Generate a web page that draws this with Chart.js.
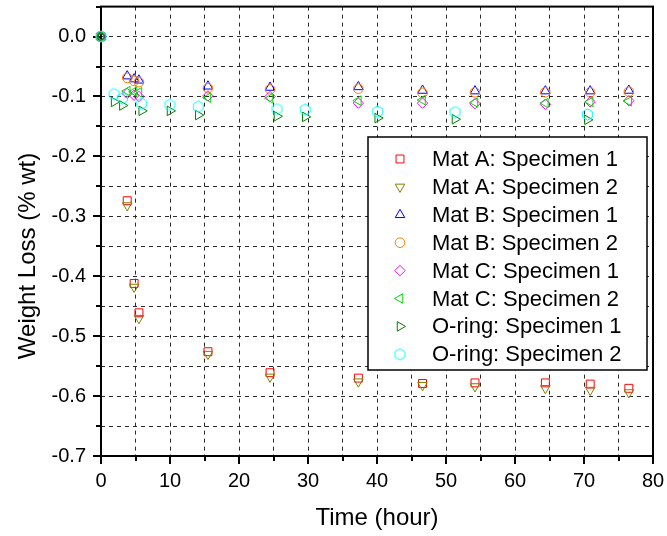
<!DOCTYPE html>
<html>
<head>
<meta charset="utf-8">
<title>Weight Loss vs Time</title>
<script src="https://cdn.jsdelivr.net/npm/chart.js@4.4.0/dist/chart.umd.min.js"></script>
<style>
  html, body { margin: 0; padding: 0; background: #fff; }
  #chart { display: block; }
</style>
</head>
<body>
<canvas id="chart" width="667" height="536"></canvas>
<script>
// Data
const seriesNames = [
    'Mat A: Specimen 1', 'Mat A: Specimen 2',
    'Mat B: Specimen 1', 'Mat B: Specimen 2',
    'Mat C: Specimen 1', 'Mat C: Specimen 2',
    'O-ring: Specimen 1', 'O-ring: Specimen 2'
];
const matTimes = [0, 3.8, 4.8, 5.5, 15.5, 24.5, 37.3, 46.6, 54.2, 64.4, 70.9, 76.5];
const matA1 = [0, -0.274, -0.412, -0.461, -0.526, -0.561, -0.570, -0.579, -0.578, -0.578, -0.580, -0.587];
const matA2 = [0, -0.282, -0.418, -0.470, -0.530, -0.568, -0.576, -0.582, -0.584, -0.587, -0.590, -0.594];
const matB1 = [0, -0.066, -0.071, -0.073, -0.083, -0.085, -0.084, -0.090, -0.091, -0.091, -0.091, -0.090];
const matB2 = [0, -0.069, -0.074, -0.076, -0.086, -0.088, -0.087, -0.094, -0.093, -0.093, -0.093, -0.092];
const matC1 = [0, -0.095, -0.098, -0.100, -0.099, -0.100, -0.111, -0.111, -0.112, -0.113, -0.109, -0.107];
const matC2 = [0, -0.091, -0.092, -0.093, -0.102, -0.103, -0.107, -0.106, -0.110, -0.111, -0.109, -0.108];
const oRingTimes = [0, 1.9, 3.1, 5.9, 10.0, 14.1, 25.5, 29.6, 40.1, 51.3, 70.5];
const oRing1 = [0, -0.109, -0.115, -0.124, -0.124, -0.131, -0.133, -0.134, -0.136, -0.138, -0.139];
const oRing2 = [0, -0.096, -0.103, -0.112, -0.114, -0.117, -0.121, -0.122, -0.125, -0.126, -0.130];

// Axis ranges / ticks
const xMin = 0, xMax = 80, xStep = 5, xLabelEvery = 10;
const yMin = -0.7, yMax = 0.05, yStep = 0.05;
const xTitle = 'Time (hour)';
const yTitle = 'Weight Loss (% wt)';

const FONT = '"Liberation Sans", Arial, sans-serif';

// Hexagon marker (Chart.js has no built-in hexagon)
function hexagonMarker(color) {
    const c = document.createElement('canvas');
    c.width = 13;
    c.height = 13;
    const g = c.getContext('2d');
    g.strokeStyle = color;
    g.lineWidth = 1;
    g.beginPath();
    for (let i = 0; i < 6; i++) {
        const a = -Math.PI / 2 + i * Math.PI / 3;
        const px = 6.5 + 5.6 * Math.cos(a);
        const py = 6.5 + 5.6 * Math.sin(a);
        if (i === 0) g.moveTo(px, py); else g.lineTo(px, py);
    }
    g.closePath();
    g.stroke();
    return c;
}

function series(times, values) {
    return times.map((t, i) => ({ x: t, y: values[i] }));
}

const styles = [
    { color: '#ff0000', pointStyle: 'rect', rotation: 0, radius: 5.6 },
    { color: '#808000', pointStyle: 'triangle', rotation: 180, radius: 5.5 },
    { color: '#0000ff', pointStyle: 'triangle', rotation: 0, radius: 5.5 },
    { color: '#ff8000', pointStyle: 'circle', rotation: 0, radius: 4.8 },
    { color: '#ff00ff', pointStyle: 'rectRot', rotation: 0, radius: 5.2 },
    { color: '#00dd00', pointStyle: 'triangle', rotation: 270, radius: 5.5 },
    { color: '#008000', pointStyle: 'triangle', rotation: 90, radius: 5.5 },
    { color: '#00ffff', pointStyle: hexagonMarker('#00ffff'), rotation: 0, radius: 5.5 }
];

const seriesData = [
    series(matTimes, matA1), series(matTimes, matA2),
    series(matTimes, matB1), series(matTimes, matB2),
    series(matTimes, matC1), series(matTimes, matC2),
    series(oRingTimes, oRing1), series(oRingTimes, oRing2)
];

const datasets = seriesData.map((data, i) => ({
    label: seriesNames[i],
    data: data,
    showLine: false,
    clip: false,
    order: -i,
    pointStyle: styles[i].pointStyle,
    rotation: styles[i].rotation,
    pointRadius: styles[i].radius,
    pointHoverRadius: styles[i].radius,
    borderColor: styles[i].color,
    backgroundColor: 'transparent',
    borderWidth: 1
}));

function isMajorY(v) {
    return Math.abs(Math.round(v / yStep)) % 2 === 0;
}

// Frame, outward ticks, axis titles and the boxed legend
const decorPlugin = {
    id: 'decor',
    beforeDatasetsDraw(chart) {
        const { ctx, chartArea: a, scales: { x, y } } = chart;
        ctx.save();
        ctx.strokeStyle = '#000';
        ctx.lineWidth = 2;
        ctx.beginPath();
        x.ticks.forEach(t => {
            const px = Math.round(x.getPixelForValue(t.value));
            const len = Math.round(t.value) % xLabelEvery === 0 ? 8 : 5;
            ctx.moveTo(px, a.bottom);
            ctx.lineTo(px, a.bottom + len);
        });
        y.ticks.forEach(t => {
            const py = Math.round(y.getPixelForValue(t.value));
            const len = isMajorY(t.value) ? 8 : 5;
            ctx.moveTo(a.left, py);
            ctx.lineTo(a.left - len, py);
        });
        ctx.stroke();
        ctx.strokeRect(a.left, a.top, a.right - a.left, a.bottom - a.top);
        ctx.restore();
    },
    afterDraw(chart) {
        const { ctx, chartArea: a } = chart;
        ctx.save();

        // axis titles
        ctx.fillStyle = '#000';
        ctx.font = '24px ' + FONT;
        ctx.textAlign = 'center';
        ctx.textBaseline = 'middle';
        ctx.fillText(xTitle, (a.left + a.right) / 2, 518);
        ctx.save();
        ctx.translate(28, 256);
        ctx.rotate(-Math.PI / 2);
        ctx.fillText(yTitle, 0, 0);
        ctx.restore();

        // legend box
        const box = { left: 368, top: 137, right: 647, bottom: 370 };
        ctx.fillStyle = '#fff';
        ctx.fillRect(box.left, box.top, box.right - box.left, box.bottom - box.top);
        ctx.strokeStyle = '#000';
        ctx.lineWidth = 1.5;
        ctx.strokeRect(box.left, box.top, box.right - box.left, box.bottom - box.top);

        const rowH = 27.9;
        chart.data.datasets.forEach((ds, i) => {
            const cy = box.top + 22 + i * rowH;
            ctx.save();
            ctx.strokeStyle = ds.borderColor;
            ctx.fillStyle = 'transparent';
            ctx.lineWidth = 1;
            Chart.helpers.drawPoint(ctx, {
                pointStyle: ds.pointStyle,
                rotation: ds.rotation,
                radius: ds.pointRadius,
                borderWidth: 1
            }, 400, cy);
            ctx.restore();
            ctx.fillStyle = '#000';
            ctx.font = '22px ' + FONT;
            ctx.textAlign = 'left';
            ctx.textBaseline = 'middle';
            ctx.fillText(ds.label, 432, cy + 1);
        });
        ctx.restore();
    }
};

const ctx = document.getElementById('chart').getContext('2d');
new Chart(ctx, {
    type: 'scatter',
    data: { datasets: datasets },
    plugins: [decorPlugin],
    options: {
        responsive: false,
        animation: false,
        devicePixelRatio: 1,
        layout: { padding: { left: 0, right: 14, top: 6, bottom: 0 } },
        plugins: {
            legend: { display: false },
            tooltip: { enabled: false }
        },
        scales: {
            x: {
                type: 'linear',
                min: xMin,
                max: xMax,
                ticks: {
                    stepSize: xStep,
                    autoSkip: false,
                    maxRotation: 0,
                    padding: 5,
                    color: '#000',
                    font: { family: FONT, size: 20 },
                    callback: v => (Math.round(v) % xLabelEvery === 0 ? String(v) : '')
                },
                grid: { color: '#2a2a2a', lineWidth: 1, tickLength: 8, tickColor: 'transparent' },
                border: { display: false, dash: [4, 4] },
                afterFit: s => {
                    s.height = 80;
                    s.paddingLeft = 0;
                    s.paddingRight = 0;
                }
            },
            y: {
                type: 'linear',
                min: yMin,
                max: yMax,
                ticks: {
                    stepSize: yStep,
                    autoSkip: false,
                    padding: 7,
                    color: '#000',
                    font: { family: FONT, size: 20 },
                    callback: v => (isMajorY(v) ? v.toFixed(1) : '')
                },
                grid: { color: '#2a2a2a', lineWidth: 1, tickLength: 8, tickColor: 'transparent' },
                border: { display: false, dash: [4, 4] },
                afterFit: s => {
                    s.width = 101;
                    s.paddingTop = 0;
                    s.paddingBottom = 0;
                }
            }
        }
    }
});
</script>
</body>
</html>
